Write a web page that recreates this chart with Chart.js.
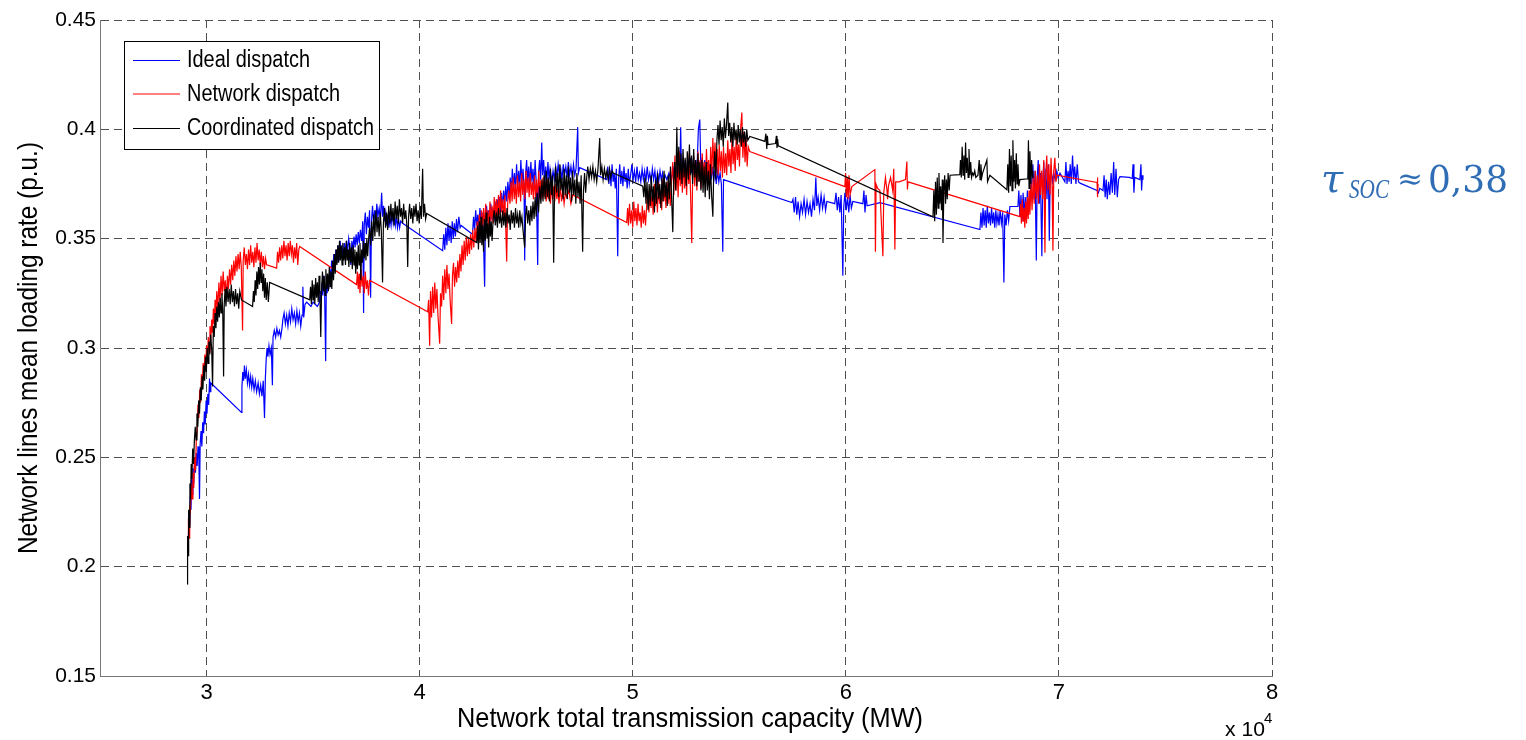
<!DOCTYPE html>
<html>
<head>
<meta charset="utf-8">
<script src="https://cdn.jsdelivr.net/npm/chart.js@4.4.1/dist/chart.umd.min.js"></script>
<style>
  html, body { margin: 0; padding: 0; background: #ffffff; }
  #wrap { width: 1526px; height: 740px; position: relative; }
</style>
</head>
<body>
<div id="wrap"><canvas id="chart" width="1526" height="740"></canvas></div>
<script>
// Network total transmission capacity (MW) vs. mean line loading rate (p.u.)
const seriesLabels = ['Ideal dispatch', 'Network dispatch', 'Coordinated dispatch'];
const seriesColors = ['#0000ff', '#ff0000', '#000000'];

const xTickValues = [30000, 40000, 50000, 60000, 70000, 80000];
const xTickLabels = ['3', '4', '5', '6', '7', '8'];
const yTickValues = [0.15, 0.2, 0.25, 0.3, 0.35, 0.4, 0.45];
const yTickLabels = ['0.15', '0.2', '0.25', '0.3', '0.35', '0.4', '0.45'];

const idealDispatch = [
[29150,0.214],[29180,0.225],[29210,0.219],[29240,0.232],[29270,0.226],[29300,0.240],[29330,0.233],[29360,0.245],[29400,0.238],[29440,0.250],
[29480,0.243],[29520,0.252],[29560,0.246],[29600,0.255],[29640,0.249],[29670,0.231],[29700,0.256],[29740,0.262],[29780,0.255],[29820,0.266],
[29860,0.261],[29900,0.271],[29940,0.265],[29980,0.276],[30020,0.270],[30060,0.279],[30100,0.274],[30140,0.286],[30170,0.280],[30200,0.284],
[31640,0.2705],[31660,0.282],[31700,0.289],[31740,0.285],[31780,0.292],[31820,0.286],[31870,0.290],[31920,0.284],[31970,0.288],[32020,0.283],
[32070,0.287],[32120,0.282],[32170,0.286],[32230,0.281],[32290,0.285],[32350,0.280],[32420,0.284],[32480,0.279],[32540,0.283],[32600,0.278],
[32660,0.285],[32720,0.268],[32760,0.286],[32800,0.295],[32840,0.300],[32880,0.296],[32930,0.301],[32980,0.297],[33040,0.300],[33090,0.283],
[33120,0.305],[33180,0.308],[33240,0.305],[33300,0.309],[33360,0.306],[33420,0.308],[33480,0.305],[33540,0.309],[33580,0.313],[33640,0.316],
[33700,0.311],[33760,0.315],[33820,0.310],[33880,0.316],[33940,0.312],[34000,0.318],[34060,0.313],[34120,0.316],[34180,0.311],[34240,0.317],
[34300,0.312],[34360,0.316],[34420,0.310],[34480,0.315],[34520,0.328],[34560,0.314],[34620,0.320],[34700,0.321],[34800,0.320],[34900,0.319],
[35000,0.321],[35100,0.320],[35200,0.319],[35300,0.321],[35340,0.326],[35380,0.321],[35420,0.330],[35460,0.324],[35500,0.333],[35540,0.326],
[35590,0.294],[35620,0.330],[35660,0.325],[35700,0.333],[35740,0.327],[35780,0.336],[35820,0.331],[35870,0.340],[35920,0.333],[35970,0.343],
[36020,0.336],[36070,0.345],[36120,0.339],[36170,0.347],[36220,0.340],[36270,0.349],[36320,0.342],[36370,0.346],[36420,0.341],[36470,0.348],
[36520,0.343],[36570,0.349],[36620,0.344],[36670,0.350],[36720,0.346],[36770,0.338],[36820,0.349],[36870,0.345],[36920,0.351],[36970,0.346],
[37020,0.352],[37070,0.347],[37120,0.353],[37170,0.348],[37220,0.354],[37280,0.349],[37330,0.358],[37370,0.316],[37400,0.356],[37450,0.362],
[37500,0.352],[37550,0.360],[37600,0.355],[37650,0.363],[37700,0.323],[37740,0.358],[37790,0.365],[37840,0.357],[37890,0.363],[37940,0.358],
[37990,0.366],[38040,0.360],[38100,0.364],[38160,0.359],[38216,0.371],[38260,0.360],[38310,0.365],[38360,0.358],[38410,0.362],[38460,0.356],
[38510,0.361],[38560,0.355],[38610,0.360],[38660,0.356],[38710,0.362],[38760,0.357],[38810,0.361],[38860,0.356],[38910,0.360],[38960,0.355],
[39010,0.359],[39060,0.355],[39110,0.358],[39200,0.357],
[41080,0.3445],[41130,0.352],[41180,0.345],[41230,0.355],[41280,0.347],[41330,0.357],[41380,0.349],[41430,0.356],[41480,0.348],[41530,0.358],
[41580,0.350],[41630,0.357],[41680,0.351],[41730,0.359],[41780,0.353],[41840,0.360],[41900,0.355],[41950,0.356],[42480,0.352],
[42530,0.360],[42580,0.354],[42630,0.363],[42680,0.356],[42730,0.361],[42780,0.355],[42830,0.364],[42880,0.357],[42930,0.362],[42980,0.356],
[43050,0.328],[43090,0.360],[43140,0.365],[43190,0.358],[43240,0.363],[43290,0.357],[43340,0.366],[43390,0.359],[43440,0.364],[43490,0.358],
[43540,0.367],[43590,0.360],[43640,0.368],[43690,0.361],[43740,0.369],[43790,0.362],[43840,0.371],[43890,0.364],[43940,0.372],[43990,0.366],
[44040,0.374],[44090,0.367],[44140,0.376],[44200,0.369],[44250,0.378],[44300,0.371],[44350,0.382],[44400,0.373],[44450,0.380],[44500,0.372],
[44550,0.384],[44600,0.374],[44650,0.381],[44700,0.373],[44750,0.386],[44800,0.375],[44850,0.382],[44900,0.374],[44930,0.340],[44970,0.379],
[45020,0.386],[45070,0.376],[45120,0.383],[45170,0.374],[45220,0.385],[45270,0.376],[45320,0.382],[45370,0.373],[45420,0.386],[45470,0.376],
[45540,0.338],[45580,0.380],[45630,0.386],[45680,0.377],[45730,0.394],[45770,0.379],[45820,0.386],[45870,0.376],[45920,0.383],[45970,0.375],
[46020,0.385],[46070,0.377],[46120,0.382],[46200,0.376],[46260,0.381],[46320,0.377],[46380,0.383],[46440,0.378],[46500,0.384],[46560,0.379],
[46620,0.382],[46680,0.377],[46740,0.384],[46800,0.379],[46860,0.383],[46920,0.378],[46980,0.385],[47040,0.379],[47100,0.383],[47160,0.378],
[47220,0.384],[47280,0.379],[47340,0.382],[47418,0.401],[47450,0.380],[47512,0.3825],
[48780,0.377],[48830,0.383],[48880,0.375],[48930,0.381],[48980,0.374],[49030,0.384],[49080,0.376],[49130,0.380],[49180,0.373],[49230,0.382],
[49296,0.342],[49340,0.378],[49390,0.384],[49440,0.375],[49490,0.381],[49540,0.374],[49590,0.383],[49640,0.376],[49690,0.380],[49740,0.373],
[49790,0.382],[49840,0.375],[49900,0.379],[49960,0.384],[50020,0.377],[50080,0.381],[50140,0.376],[50200,0.383],[50260,0.377],[50320,0.380],
[50380,0.376],[50440,0.382],[50500,0.377],[50560,0.381],[50620,0.376],[50680,0.383],[50740,0.377],[50800,0.380],[50860,0.376],[50920,0.382],
[50980,0.377],[51040,0.381],[51100,0.375],[51160,0.380],[51220,0.376],[51280,0.381],[51340,0.377],[51400,0.380],[51460,0.376],[51520,0.379],
[51600,0.377],[51700,0.380],[51800,0.376],[51900,0.382],[52000,0.377],[52100,0.383],[52207,0.378],[52250,0.401],[52290,0.379],[52350,0.385],
[52410,0.378],[52470,0.386],[52530,0.379],[52590,0.384],[52650,0.378],[52710,0.387],[52770,0.380],[52830,0.385],[52890,0.379],[52950,0.386],
[53010,0.380],[53080,0.400],[53146,0.4045],[53200,0.381],[53260,0.387],[53320,0.380],[53380,0.386],[53440,0.379],[53500,0.385],[53560,0.378],
[53620,0.384],[53680,0.377],[53740,0.383],[53800,0.376],[53860,0.382],[53920,0.375],[53980,0.381],[54040,0.376],[54100,0.380],[54160,0.375],
[54226,0.344],[54260,0.377],
[57466,0.3665],[57520,0.368],[57580,0.362],[57640,0.369],[57700,0.361],[57760,0.367],[57830,0.360],[57900,0.366],[57970,0.362],[58040,0.368],
[58110,0.361],[58180,0.367],[58250,0.362],[58320,0.366],[58390,0.360],[58460,0.368],[58530,0.363],[58593,0.378],[58640,0.365],[58700,0.369],
[58770,0.363],[58840,0.370],[58910,0.364],[58980,0.369],[59050,0.363],[59110,0.367],[59480,0.366],[59540,0.371],[59600,0.363],[59660,0.369],
[59720,0.362],[59780,0.370],[59860,0.333],[59900,0.364],[59960,0.371],[60020,0.363],[60080,0.369],[60140,0.362],[60200,0.370],[60260,0.364],
[60330,0.367],[60800,0.366],[60850,0.372],[60900,0.362],[60950,0.370],[61000,0.365],[61600,0.3665],
[66293,0.3542],[66340,0.362],[66390,0.355],[66440,0.364],[66490,0.356],[66540,0.363],[66590,0.355],[66640,0.365],[66690,0.357],[66740,0.362],
[66790,0.356],[66840,0.364],[66890,0.357],[66940,0.362],[66990,0.355],[67040,0.363],[67090,0.357],[67140,0.361],[67190,0.356],[67240,0.363],
[67300,0.357],[67360,0.362],[67419,0.330],[67460,0.361],[67520,0.356],[67580,0.363],[67640,0.358],[67700,0.3647],[68076,0.3647],
[68120,0.372],[68170,0.360],[68220,0.370],[68270,0.358],[68320,0.371],[68370,0.360],[68420,0.369],[68470,0.359],[68520,0.372],[68570,0.361],
[68640,0.368],[68720,0.375],[68781,0.384],[68830,0.368],[68880,0.381],[68940,0.340],[68980,0.378],[69030,0.386],[69080,0.366],[69130,0.380],
[69200,0.342],[69240,0.376],[69290,0.385],[69340,0.370],[69390,0.382],[69440,0.368],[69500,0.384],[69550,0.349],[69590,0.379],[69640,0.381],
[69700,0.376],[69760,0.380],[69820,0.377],[69900,0.381],[69960,0.378],[70050,0.380],[70280,0.376],[70330,0.385],[70380,0.375],[70430,0.381],
[70480,0.376],[70530,0.384],[70580,0.375],[70640,0.388],[70690,0.377],[70740,0.383],[70800,0.375],[70860,0.384],[70920,0.376],[70990,0.3754],
[71790,0.372],[71850,0.371],[71920,0.373],[72070,0.372],[72120,0.379],[72170,0.369],[72220,0.377],[72270,0.368],[72330,0.376],[72390,0.370],
[72450,0.380],[72510,0.371],[72570,0.385],[72620,0.370],[72680,0.382],[72740,0.369],[72800,0.377],[72865,0.3784],[73300,0.378],[73440,0.3775],
[73480,0.384],[73520,0.371],[73560,0.378],[73800,0.377],[73850,0.384],[73880,0.372],[73920,0.379],[73945,0.377]
];

const networkDispatch = [
[29130,0.208],[29150,0.222],[29180,0.213],[29210,0.228],[29240,0.224],[29280,0.238],[29320,0.231],[29360,0.243],[29400,0.236],[29440,0.250],
[29480,0.244],[29520,0.258],[29560,0.262],[29600,0.274],[29640,0.268],[29680,0.281],[29720,0.275],[29760,0.288],[29800,0.281],[29840,0.293],
[29880,0.286],[29920,0.297],[29960,0.290],[30000,0.301],[30040,0.294],[30080,0.305],[30120,0.298],[30160,0.310],[30200,0.303],[30240,0.313],
[30280,0.307],[30320,0.318],[30360,0.311],[30400,0.322],[30440,0.315],[30480,0.326],[30530,0.318],[30580,0.330],[30630,0.321],[30680,0.333],
[30730,0.324],[30780,0.335],[30830,0.326],[30880,0.331],[30930,0.322],[30980,0.333],[31030,0.327],[31080,0.336],[31130,0.329],[31180,0.338],
[31230,0.331],[31280,0.340],[31330,0.333],[31380,0.342],[31430,0.335],[31480,0.343],[31530,0.336],[31580,0.344],[31630,0.337],[31690,0.308],
[31720,0.340],[31770,0.346],[31820,0.338],[31870,0.343],[31920,0.336],[31970,0.345],[32020,0.338],[32070,0.347],[32120,0.339],[32170,0.344],
[32220,0.337],[32270,0.346],[32320,0.339],[32370,0.348],[32420,0.340],[32470,0.345],[32520,0.338],[32570,0.344],[32620,0.337],[32670,0.342],
[32720,0.336],[32770,0.341],[32820,0.338],[33290,0.3365],[33330,0.344],[33380,0.339],[33430,0.346],[33480,0.340],[33530,0.347],[33580,0.341],
[33630,0.349],[33680,0.342],[33730,0.347],[33780,0.340],[33830,0.348],[33880,0.342],[33930,0.349],[33980,0.343],[34030,0.347],[34080,0.339],
[34130,0.346],[34180,0.341],[34230,0.348],[34280,0.338],[34330,0.345],[34370,0.3464],
[37040,0.329],[37080,0.335],[37120,0.327],[37160,0.334],[37200,0.325],[37250,0.336],[37300,0.328],[37350,0.333],[37400,0.325],[37450,0.335],
[37500,0.327],[37550,0.331],[37600,0.324],[37650,0.331],
[40380,0.3166],[40420,0.322],[40470,0.301],[40510,0.326],[40560,0.314],[40610,0.328],[40660,0.316],[40710,0.330],[40760,0.318],[40810,0.327],
[40860,0.315],[40940,0.302],[40980,0.325],[41030,0.319],[41080,0.333],[41130,0.322],[41180,0.336],[41230,0.325],[41280,0.338],[41330,0.327],
[41380,0.334],[41430,0.322],[41500,0.311],[41540,0.333],[41590,0.339],[41640,0.328],[41690,0.337],[41740,0.330],[41790,0.340],[41840,0.332],
[41890,0.343],[41940,0.335],[41990,0.347],[42040,0.338],[42090,0.349],[42140,0.340],[42190,0.351],[42240,0.342],[42290,0.350],[42340,0.343],
[42390,0.352],[42440,0.345],[42490,0.354],[42540,0.346],[42600,0.355],[42650,0.348],[42700,0.358],[42750,0.350],[42800,0.361],[42850,0.352],
[42900,0.363],[42950,0.354],[43000,0.364],[43050,0.355],[43100,0.366],[43150,0.357],[43200,0.363],[43250,0.355],[43300,0.367],[43350,0.358],
[43400,0.365],[43450,0.357],[43500,0.369],[43550,0.360],[43600,0.368],[43650,0.359],[43700,0.370],[43750,0.361],[43800,0.372],[43850,0.362],
[43900,0.368],[43950,0.360],[44000,0.370],[44085,0.3395],[44130,0.366],[44180,0.372],[44240,0.366],[44290,0.376],[44340,0.367],[44390,0.378],
[44440,0.368],[44490,0.375],[44540,0.366],[44590,0.379],[44640,0.369],[44690,0.376],[44740,0.367],[44790,0.380],[44840,0.370],[44890,0.377],
[44940,0.368],[44990,0.381],[45040,0.371],[45090,0.378],[45140,0.369],[45190,0.380],[45240,0.370],[45290,0.376],[45340,0.368],[45390,0.379],
[45440,0.369],[45490,0.377],[45540,0.368],[45590,0.381],[45640,0.371],[45690,0.377],[45740,0.368],[45790,0.378],[45840,0.369],[45890,0.376],
[45940,0.367],[45990,0.377],[46040,0.368],[46090,0.375],[46140,0.366],[46190,0.376],[46240,0.368],[46290,0.374],[46340,0.367],[46390,0.375],
[46440,0.368],[46490,0.373],[46540,0.366],[46600,0.374],[46660,0.367],[46720,0.372],[46780,0.366],[46840,0.371],[46900,0.369],[47000,0.372],
[47100,0.366],[47184,0.370],
[49720,0.3574],[49760,0.364],[49800,0.356],[49850,0.366],[49900,0.357],[49950,0.363],[50000,0.355],[50050,0.367],[50100,0.358],[50150,0.364],
[50200,0.356],[50250,0.366],[50300,0.358],[50350,0.362],[50400,0.355],[50450,0.365],[50500,0.357],[50550,0.363],[50600,0.356],[50660,0.366],
[50710,0.372],[50760,0.362],[50810,0.374],[50860,0.364],[50910,0.370],[50960,0.361],[51010,0.375],[51060,0.365],[51110,0.371],[51160,0.362],
[51210,0.376],[51260,0.366],[51310,0.372],[51360,0.363],[51410,0.377],[51460,0.367],[51510,0.373],[51560,0.364],[51610,0.376],[51660,0.366],
[51710,0.374],[51760,0.365],[51820,0.377],[51880,0.385],[51930,0.370],[51980,0.388],[52030,0.372],[52080,0.383],[52130,0.369],[52180,0.390],
[52230,0.374],[52280,0.384],[52330,0.371],[52380,0.387],[52430,0.373],[52480,0.382],[52530,0.370],[52580,0.389],[52630,0.375],[52680,0.384],
[52770,0.348],[52810,0.377],[52860,0.388],[52910,0.374],[52960,0.385],[53010,0.372],[53060,0.390],[53110,0.376],[53160,0.386],[53210,0.373],
[53260,0.389],[53310,0.377],[53360,0.385],[53410,0.374],[53460,0.391],[53510,0.378],[53560,0.386],[53610,0.375],[53660,0.392],[53710,0.379],
[53760,0.396],[53810,0.382],[53860,0.394],[53910,0.380],[53960,0.391],[54010,0.379],[54060,0.393],[54110,0.381],[54160,0.390],[54210,0.378],
[54260,0.392],[54310,0.380],[54360,0.389],[54410,0.379],[54460,0.395],[54510,0.383],[54560,0.391],[54610,0.380],[54660,0.397],[54710,0.384],
[54760,0.392],[54810,0.381],[54860,0.398],[54910,0.386],[54960,0.393],[55010,0.383],[55060,0.400],[55120,0.4077],[55170,0.387],[55220,0.399],
[55270,0.385],[55320,0.396],[55370,0.383],[55420,0.392],[55494,0.3898],
[59954,0.3738],[59990,0.380],[60030,0.369],[60070,0.378],[60110,0.368],[60150,0.379],[60200,0.370],[60283,0.3738],
[61363,0.3816],[61390,0.344],[61420,0.375],[61500,0.373],[61600,0.372],[61740,0.342],[61780,0.371],[61860,0.378],[61927,0.3725],[61960,0.368],
[62000,0.374],[62100,0.378],[62200,0.372],[62250,0.382],[62302,0.345],[62340,0.376],[62500,0.376],[62800,0.377],[62865,0.3853],[62890,0.3725],
[62920,0.376],
[68170,0.3601],[68200,0.366],[68240,0.357],[68280,0.368],[68320,0.358],[68360,0.364],[68400,0.355],[68440,0.367],[68480,0.357],[68520,0.369],
[68560,0.359],[68600,0.372],[68640,0.361],[68690,0.376],[68740,0.363],[68790,0.378],[68840,0.366],[68890,0.381],[68940,0.368],[68990,0.379],
[69040,0.366],[69090,0.384],[69140,0.370],[69190,0.381],[69240,0.368],[69290,0.386],[69345,0.3436],[69380,0.379],[69430,0.388],[69480,0.372],
[69530,0.384],[69580,0.370],[69630,0.387],[69680,0.374],[69720,0.3445],[69760,0.381],[69810,0.387],[69860,0.376],[69908,0.379],
[71790,0.3757],[71800,0.378],[71810,0.369],[71820,0.376],[71830,0.371],[71840,0.375]
];

const coordinatedDispatch = [
[29100,0.192],[29110,0.214],[29130,0.205],[29160,0.226],[29190,0.218],[29220,0.238],[29250,0.231],[29280,0.247],[29310,0.240],[29350,0.254],
[29390,0.247],[29430,0.258],[29470,0.264],[29510,0.258],[29550,0.270],[29590,0.264],[29630,0.276],[29670,0.270],[29710,0.282],[29750,0.276],
[29790,0.287],[29830,0.281],[29870,0.292],[29910,0.285],[29950,0.296],[29990,0.289],[30030,0.300],[30070,0.293],[30110,0.303],[30150,0.297],
[30190,0.306],[30240,0.300],[30282,0.2824],[30320,0.310],[30360,0.305],[30400,0.316],[30440,0.309],[30480,0.319],[30520,0.312],[30560,0.321],
[30600,0.314],[30640,0.323],[30680,0.316],[30720,0.325],[30760,0.317],[30800,0.287],[30830,0.320],[30870,0.327],[30910,0.319],[30960,0.328],
[31010,0.321],[31060,0.327],[31110,0.320],[31160,0.329],[31210,0.321],[31260,0.326],[31310,0.319],[31360,0.327],[31410,0.320],[31460,0.325],
[31510,0.318],[31560,0.326],[31640,0.322],[32160,0.319],[32200,0.326],[32240,0.321],[32280,0.331],[32320,0.324],[32360,0.335],[32400,0.327],
[32440,0.337],[32480,0.329],[32520,0.339],[32560,0.330],[32600,0.336],[32640,0.326],[32680,0.334],[32720,0.323],[32760,0.332],[32800,0.322],
[32850,0.330],[32900,0.321],[32960,0.330],
[34840,0.322],[34880,0.328],[34920,0.320],[34960,0.331],[35000,0.322],[35040,0.329],[35080,0.320],[35120,0.332],[35160,0.323],[35200,0.330],
[35240,0.321],[35280,0.333],[35320,0.324],[35360,0.305],[35400,0.327],[35440,0.335],[35480,0.326],[35520,0.333],[35560,0.324],[35600,0.336],
[35640,0.327],[35680,0.334],[35720,0.326],[35760,0.337],[35800,0.328],[35840,0.335],[35880,0.327],[35920,0.340],[35960,0.331],[36000,0.343],
[36040,0.334],[36080,0.345],[36120,0.338],[36160,0.347],[36200,0.339],[36240,0.349],[36280,0.340],[36320,0.347],[36360,0.338],[36400,0.348],
[36440,0.340],[36480,0.346],[36520,0.338],[36560,0.349],[36600,0.340],[36640,0.345],[36680,0.337],[36720,0.348],[36760,0.339],[36800,0.346],
[36840,0.336],[36880,0.347],[36920,0.338],[36960,0.345],[37000,0.334],[37040,0.344],[37080,0.336],[37120,0.347],[37160,0.338],[37200,0.348],
[37240,0.331],[37280,0.345],[37320,0.339],[37360,0.349],[37400,0.341],[37440,0.348],[37480,0.340],[37520,0.350],[37560,0.342],[37600,0.349],
[37650,0.355],[37700,0.347],[37750,0.358],[37800,0.349],[37850,0.361],[37900,0.351],[37950,0.363],[38000,0.353],[38050,0.360],[38100,0.351],
[38150,0.362],[38200,0.354],[38260,0.330],[38300,0.357],[38350,0.364],[38400,0.355],[38450,0.362],[38500,0.354],[38550,0.365],[38600,0.357],
[38650,0.366],[38700,0.358],[38750,0.364],[38800,0.356],[38850,0.367],[38900,0.359],[38950,0.365],[39000,0.357],[39050,0.368],[39100,0.360],
[39150,0.364],[39200,0.357],[39250,0.366],[39300,0.359],[39350,0.363],[39400,0.356],[39440,0.337],[39480,0.360],[39530,0.366],[39580,0.359],
[39630,0.364],[39680,0.357],[39730,0.365],[39780,0.360],[39830,0.366],[39880,0.358],[39930,0.363],[39980,0.357],[40030,0.365],[40080,0.359],
[40140,0.382],[40180,0.360],[40230,0.366],[40280,0.359],[40330,0.3615],
[42680,0.3482],[42720,0.356],[42760,0.345],[42800,0.358],[42840,0.348],[42880,0.360],[42920,0.347],[42960,0.356],[43000,0.344],[43040,0.359],
[43080,0.349],[43120,0.362],[43160,0.350],[43200,0.357],[43240,0.346],[43280,0.360],[43320,0.351],[43360,0.358],[43400,0.349],[43450,0.359],
[43500,0.363],[43550,0.356],[43600,0.362],[43650,0.355],[43700,0.364],[43750,0.357],[43800,0.361],[43850,0.355],[43900,0.363],[43950,0.356],
[44000,0.362],[44050,0.355],[44100,0.364],[44150,0.357],[44200,0.361],[44250,0.354],[44300,0.363],[44350,0.357],[44400,0.362],[44450,0.355],
[44500,0.364],[44550,0.357],[44600,0.361],[44650,0.355],[44700,0.363],[44750,0.357],[44800,0.360],[44850,0.354],[44930,0.346],[44970,0.360],
[45020,0.365],[45070,0.357],[45120,0.363],[45170,0.356],[45220,0.365],[45270,0.358],[45320,0.367],[45370,0.359],[45420,0.369],[45470,0.360],
[45520,0.371],[45580,0.362],[45640,0.374],[45690,0.366],[45740,0.377],[45790,0.367],[45840,0.379],[45890,0.368],[45940,0.381],[45990,0.369],
[46040,0.378],[46090,0.367],[46140,0.382],[46190,0.370],[46240,0.379],[46290,0.339],[46330,0.372],[46380,0.383],[46430,0.371],[46480,0.380],
[46530,0.369],[46580,0.384],[46630,0.372],[46680,0.378],[46730,0.368],[46780,0.382],[46830,0.370],[46880,0.379],[46930,0.368],[46980,0.383],
[47030,0.371],[47080,0.378],[47130,0.367],[47180,0.381],[47230,0.370],[47280,0.377],[47330,0.366],[47380,0.380],[47430,0.369],[47480,0.376],
[47530,0.366],[47580,0.379],[47650,0.344],[47690,0.372],[47740,0.380],[47790,0.371],[47840,0.378],[47890,0.383],[47950,0.377],[48010,0.382],
[48070,0.378],[48130,0.383],[48190,0.377],[48250,0.381],[48310,0.376],[48370,0.382],[48450,0.396],[48490,0.379],[48550,0.383],[48610,0.377],
[48670,0.382],[48730,0.378],[48790,0.381],[48850,0.377],[48910,0.382],[48970,0.378],[49030,0.381],[49090,0.380],
[50470,0.374],[50520,0.369],[50570,0.378],[50620,0.366],[50670,0.376],[50720,0.363],[50770,0.375],[50820,0.365],[50870,0.379],[50920,0.367],
[50970,0.374],[51020,0.362],[51070,0.377],[51120,0.366],[51170,0.380],[51220,0.368],[51270,0.375],[51320,0.364],[51370,0.378],[51420,0.367],
[51470,0.381],[51520,0.369],[51570,0.376],[51620,0.365],[51670,0.379],[51720,0.368],[51770,0.383],[51820,0.370],[51880,0.353],[51920,0.376],
[51970,0.385],[52020,0.372],[52070,0.401],[52110,0.378],[52160,0.392],[52210,0.377],[52260,0.389],[52310,0.375],[52360,0.391],[52410,0.378],
[52460,0.387],[52510,0.374],[52560,0.390],[52610,0.377],[52660,0.393],[52710,0.379],[52760,0.388],[52810,0.375],[52860,0.391],[52910,0.378],
[52960,0.386],[53010,0.374],[53060,0.389],[53110,0.376],[53150,0.385],[53200,0.372],[53250,0.386],[53300,0.371],[53350,0.383],[53400,0.369],
[53450,0.385],[53500,0.372],[53550,0.381],[53600,0.368],[53650,0.384],[53700,0.370],[53760,0.360],[53800,0.380],[53850,0.390],[53900,0.377],
[53950,0.395],[54000,0.402],[54050,0.393],[54100,0.404],[54150,0.395],[54200,0.401],[54250,0.392],[54300,0.405],[54350,0.396],[54400,0.402],
[54460,0.4123],[54500,0.397],[54550,0.403],[54600,0.394],[54650,0.401],[54700,0.392],[54750,0.403],[54800,0.395],[54850,0.400],[54900,0.393],
[54950,0.402],[55000,0.394],[55050,0.400],[55100,0.392],[55150,0.401],[55200,0.394],[55250,0.399],[55300,0.392],[55350,0.400],[55400,0.395],
[55494,0.3967],[56200,0.3945],[56250,0.398],[56290,0.391],[56320,0.397],[56350,0.393],[56700,0.3935],[56740,0.397],[56770,0.3915],[56800,0.3955],
[56830,0.3925],
[64090,0.360],[64130,0.372],[64170,0.358],[64210,0.376],[64250,0.361],[64290,0.378],[64330,0.364],[64370,0.380],[64410,0.366],[64450,0.374],
[64490,0.363],[64530,0.377],[64560,0.348],[64600,0.372],[64640,0.379],[64680,0.366],[64720,0.377],[64760,0.368],[64800,0.380],[64850,0.372],
[64890,0.379],[65350,0.3793],[65380,0.386],[65420,0.378],[65460,0.392],[65500,0.379],[65540,0.388],[65580,0.377],[65620,0.394],[65660,0.380],
[65700,0.387],[65740,0.378],[65780,0.391],[65820,0.379],[65860,0.385],[65900,0.378],[65950,0.380],[66000,0.379],[66050,0.381],[66100,0.378],
[66200,0.379],[66260,0.386],[66300,0.377],[66340,0.384],[66380,0.378],[66420,0.380],[66620,0.386],[66650,0.376],[66760,0.379],[67560,0.3724],
[67600,0.384],[67640,0.371],[67680,0.391],[67720,0.374],[67760,0.388],[67800,0.372],[67840,0.395],[67880,0.376],[67920,0.386],[67960,0.373],
[68000,0.389],[68040,0.375],[68080,0.384],[68120,0.374],[68170,0.377],[68540,0.3774],[68570,0.395],[68600,0.373],[68640,0.390],[68680,0.375],
[68720,0.386],[68760,0.378],[68780,0.381]
];

const seriesData = [idealDispatch, networkDispatch, coordinatedDispatch];

// Draw text squeezed/stretched horizontally to a given advance width
function fitText(ctx, text, x, y, font, color, align, width) {
  ctx.save();
  ctx.font = font;
  ctx.fillStyle = color;
  ctx.textAlign = align;
  ctx.textBaseline = 'alphabetic';
  const w = ctx.measureText(text).width;
  const sx = width ? width / w : 1;
  ctx.translate(x, y);
  ctx.scale(sx, 1);
  ctx.fillText(text, 0, 0);
  ctx.restore();
}

const decorations = {
  id: 'decorations',
  afterDraw(chart) {
    const ctx = chart.ctx;
    const sans = '"Liberation Sans", Arial, sans-serif';

    // legend box
    ctx.save();
    ctx.fillStyle = '#ffffff';
    ctx.fillRect(124.5, 41.5, 255, 108);
    ctx.strokeStyle = '#000000';
    ctx.lineWidth = 1;
    ctx.strokeRect(124.5, 41.5, 255, 108);
    ctx.restore();
    const rowLine = [60, 93.5, 128];
    const rowBase = [67, 100.5, 135];
    const rowWidth = [123, 153, 187];
    chart.data.datasets.forEach((ds, i) => {
      ctx.save();
      ctx.strokeStyle = ds.borderColor;
      ctx.lineWidth = 1;
      ctx.beginPath();
      ctx.moveTo(133, rowLine[i] + 0.5);
      ctx.lineTo(180, rowLine[i] + 0.5);
      ctx.stroke();
      ctx.restore();
      fitText(ctx, ds.label, 187, rowBase[i], '23px ' + sans, '#000', 'left', rowWidth[i]);
    });

    // axis titles
    fitText(ctx, 'Network total transmission capacity (MW)', 690, 727, '28px ' + sans, '#000', 'center', 466);
    ctx.save();
    ctx.translate(37, 348);
    ctx.rotate(-Math.PI / 2);
    fitText(ctx, 'Network lines mean loading rate (p.u.)', 0, 0, '28px ' + sans, '#000', 'center', 412);
    ctx.restore();

    // x-axis exponent
    fitText(ctx, 'x 10', 1225, 736, '21px ' + sans, '#000', 'left', 40);
    fitText(ctx, '4', 1264, 723, '15px ' + sans, '#000', 'left', 0);

    // annotation
    const blue = '#2f6db5';
    fitText(ctx, 'τ', 1321, 192, 'italic 40px "DejaVu Serif", serif', blue, 'left', 0);
    fitText(ctx, 'SOC', 1349, 198, 'italic 28px "Liberation Serif", serif', blue, 'left', 40);
    fitText(ctx, '≈', 1397, 189, '30px "DejaVu Serif", serif', blue, 'left', 26);
    fitText(ctx, '0,38', 1428, 192, '37px "DejaVu Serif", serif', blue, 'left', 80);
  }
};

const ctx = document.getElementById('chart').getContext('2d');
new Chart(ctx, {
  type: 'scatter',
  data: {
    datasets: seriesData.map((pts, i) => ({
      label: seriesLabels[i],
      data: pts.map(p => ({ x: p[0], y: p[1] })),
      showLine: true,
      borderColor: seriesColors[i],
      backgroundColor: seriesColors[i],
      borderWidth: 1.2,
      pointRadius: 0,
      pointHoverRadius: 0,
      tension: 0,
      fill: false,
      order: 3 - i
    }))
  },
  options: {
    responsive: false,
    animation: false,
    devicePixelRatio: 1,
    layout: { padding: { top: 20, right: 254, bottom: 0, left: 0 } },
    plugins: {
      legend: { display: false },
      tooltip: { enabled: false },
      title: { display: false }
    },
    scales: {
      x: {
        type: 'linear',
        min: 25000,
        max: 80000,
        afterBuildTicks: s => { s.ticks = xTickValues.map(v => ({ value: v })); },
        afterFit: s => { s.height = 64; },
        grid: { color: '#505050', lineWidth: 1, drawTicks: false },
        border: { display: true, color: '#777777', width: 1, dash: [8, 5] },
        ticks: {
          padding: 4,
          color: '#000',
          font: { family: '"Liberation Sans", Arial, sans-serif', size: 22 },
          maxRotation: 0,
          callback: (v, i) => xTickLabels[i]
        }
      },
      y: {
        type: 'linear',
        min: 0.15,
        max: 0.45,
        afterBuildTicks: s => { s.ticks = yTickValues.map(v => ({ value: v })); },
        afterFit: s => { s.width = 100; },
        grid: { color: '#505050', lineWidth: 1, drawTicks: false },
        border: { display: true, color: '#777777', width: 1, dash: [8, 5] },
        ticks: {
          padding: 4,
          color: '#000',
          font: { family: '"Liberation Sans", Arial, sans-serif', size: 21 },
          callback: (v, i) => yTickLabels[i]
        }
      }
    }
  },
  plugins: [decorations]
});
</script>
</body>
</html>
